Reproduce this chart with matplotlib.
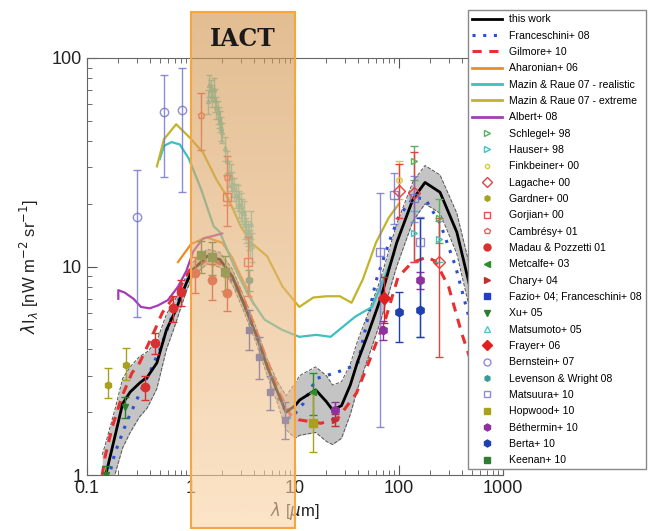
import numpy as np
import matplotlib
matplotlib.use('Agg')
import matplotlib.pyplot as plt
from matplotlib.lines import Line2D
from matplotlib.patches import Rectangle
from matplotlib.colors import LinearSegmentedColormap
from matplotlib.transforms import blended_transform_factory

plt.rcParams['font.family'] = ['Liberation Sans', 'DejaVu Sans']

# ---- model curves ----
tw_x = [0.14, 0.15, 0.185, 0.22, 0.26, 0.32, 0.38, 0.47, 0.58, 0.7, 0.9, 1.03, 1.43, 1.9, 2.5, 3.3, 4.3, 5.4, 6.8, 8.2,
        10, 11.1, 15.8, 20, 23, 28, 34, 40, 50, 66, 95, 136, 178, 248, 360, 480, 650]
tw_y = [0.9, 0.98, 1.52, 2.2, 2.5, 2.76, 2.95, 3.45, 4.96, 6.05, 8.3, 9.6, 11.2, 10.8, 8.95, 6.42, 4.6, 3.31, 2.5, 2.0,
        2.15, 2.29, 2.56, 2.25, 2.05, 2.15, 2.7, 3.5, 4.7, 6.94, 13.0, 21.0, 25.3, 22.7, 14.6, 8.0, 4.0]
tw_hi = [1.25, 1.4, 2.05, 2.9, 3.3, 3.7, 3.9, 4.4, 5.9, 6.9, 9.0, 10.4, 12.1, 11.7, 9.7, 7.0, 5.0, 3.6, 2.8, 2.4,
         2.75, 3.0, 3.3, 3.0, 2.7, 2.8, 3.4, 4.4, 5.9, 8.6, 16.0, 25.5, 30.5, 27.5, 18.0, 10.0, 5.2]
tw_lo = [0.62, 0.7, 1.0, 1.35, 1.6, 1.9, 2.1, 2.6, 4.0, 5.2, 7.6, 8.9, 10.3, 9.9, 8.2, 5.9, 4.2, 3.0, 2.2, 1.65,
         1.5, 1.55, 1.6, 1.45, 1.4, 1.5, 1.95, 2.6, 3.6, 5.4, 10.0, 16.5, 20.0, 18.0, 11.5, 6.2, 3.0]

fr_x = [0.16, 0.185, 0.24, 0.31, 0.4, 0.5, 0.7, 1.0, 1.5, 2.0, 3.0, 4.0, 5.0, 7.0, 9.0, 12, 16, 25, 40, 60, 80, 100,
        140, 180, 250, 350, 480]
fr_y = [0.95, 1.27, 1.79, 2.37, 3.1, 3.98, 6.3, 9.4, 11.0, 10.2, 7.2, 5.0, 3.7, 2.3, 1.85, 2.2, 2.9, 3.1, 3.4, 8.5,
        13.0, 17.5, 21.5, 21.0, 16.0, 10.0, 5.5]

gi_x = [0.14, 0.149, 0.175, 0.216, 0.27, 0.32, 0.42, 0.53, 0.73, 0.97, 1.5, 2.0, 3.0, 4.0, 5.0, 7.0, 9.0, 10.9, 17.8,
        26, 39, 51, 75, 98, 132, 185, 224, 300, 400, 600]
gi_y = [1.0, 1.22, 1.7, 2.37, 3.08, 3.45, 4.6, 6.0, 7.5, 9.6, 10.9, 10.2, 7.6, 5.3, 3.9, 2.5, 1.95, 1.84, 1.77, 1.88,
        2.47, 3.45, 5.7, 8.9, 10.4, 11.1, 10.6, 8.0, 4.8, 2.6]

ah_x = [0.75, 1.0, 1.4, 2.0, 2.5, 3.0, 3.5, 4.0]
ah_y = [10.5, 12.8, 13.8, 13.0, 11.0, 9.0, 7.8, 6.6]

mr_x = [0.5, 0.55, 0.65, 0.78, 0.95, 1.25, 1.65, 1.9, 2.6, 3.6, 5.1, 7.5, 11, 16, 22, 38, 55, 70, 90]
mr_y = [32.7, 37.9, 39.5, 38.5, 33.0, 23.5, 15.6, 14.6, 10.0, 7.2, 5.56, 4.97, 4.6, 4.7, 4.6, 5.75, 6.4, 8.5, 11.5]

me_x = [0.47, 0.55, 0.72, 0.95, 1.3, 1.75, 2.3, 3.0, 3.8, 5.4, 7.6, 11, 15, 20, 27, 35, 45, 60, 80, 100]
me_y = [30.2, 40.8, 48.1, 42.0, 35.3, 26.2, 21.0, 15.6, 13.0, 11.2, 8.0, 6.4, 7.1, 7.2, 7.2, 6.7, 8.7, 13.0, 17.2, 20.0]

al_x = [0.2, 0.2, 0.23, 0.28, 0.33, 0.4, 0.48, 0.6, 0.75, 0.9, 1.05, 1.3, 1.7, 2.0]
al_y = [7.0, 7.7, 7.5, 7.0, 6.4, 6.3, 6.5, 6.9, 8.0, 9.5, 11.8, 13.6, 14.1, 14.4]

# ---- data points: (x, y, err_lo, err_hi) ----
schlegel = ([140, 240], [32, 17], [6, 4], [6, 4])
hauser = ([140, 240], [14.5, 13.5], [4, 3], [4, 3])
finkbeiner = ([100], [26], [5], [6])
lagache = ([100, 140, 240], [23, 22.5, 10.5], [6, 12, 6.8], [8, 13, 6.5])
gardner = ([0.1595, 0.2365], [2.7, 3.37], [0.36, 0.51], [0.56, 0.7])
gorjian = ([2.2, 3.5], [21.6, 10.5], [6, 3.3], [6, 3.3])
cambresy = ([1.25, 2.2], [53.3, 26.8], [17, 7], [15, 7])
madau = ([0.36, 0.45, 0.67, 0.81, 1.1, 1.6, 2.2], [2.64, 4.3, 6.3, 7.55, 9.3, 8.6, 7.5],
         [0.35, 0.5, 0.9, 1.1, 1.8, 1.7, 1.4], [0.35, 0.5, 0.9, 1.1, 1.8, 1.7, 1.4])
metcalfe = ([15], [2.5], [0.56], [0.58])
chary = ([24], [1.84], [0.12], [0.12])
fazio = ([3.6, 4.5, 5.8, 8.0], [4.96, 3.68, 2.5, 1.84], [1.0, 0.8, 0.45, 0.35], [1.2, 0.9, 0.5, 0.4])
xu = ([0.153, 0.231], [1.0, 2.12], [0.1, 0.25], [0.1, 0.25])
matsumoto_x = [1.45, 1.5, 1.55, 1.6, 1.65, 1.7, 1.75, 1.8, 1.85, 1.9, 1.95, 2.0, 2.1, 2.2, 2.3, 2.4, 2.5, 2.6,
               2.7, 2.8, 2.9, 3.0, 3.1, 3.2, 3.3, 3.4, 3.5, 3.6, 3.7, 3.8, 3.9]
matsumoto_y = [62, 74, 70, 66, 71, 63, 58, 55, 52, 50, 46, 44, 37, 32, 28, 27, 25, 23.5, 22, 21.5, 20, 19.5,
               18.5, 18, 16, 15, 14.5, 14, 13, 16, 12.5]
matsumoto_e = [8, 9, 8, 8, 9, 8, 7, 7, 6, 6, 6, 5, 5, 4, 4, 4, 3.5, 3, 3, 3, 3, 3, 2.5, 2.5, 2.5, 2, 2, 2,
               2, 2.5, 2]
frayer = ([71.4], [7.06], [1.7], [1.85])
bernstein = ([0.3, 0.555, 0.814], [17.3, 55, 56.3], [11.6, 28, 33.5], [11.7, 28, 33])
levenson = ([3.6], [8.6], [1.0], [1.0])
matsuura = ([65, 90, 140, 160], [11.7, 22.0, 21.3, 13.1], [10, 6, 5, 8.5], [10.8, 6, 6, 4.2])
hopwood = ([15], [1.77], [0.48], [0.7])
bethermin = ([24, 70, 160], [2.05, 4.96, 8.6], [0.2, 0.5, 0.8], [0.2, 0.5, 0.8])
berta = ([100, 160], [6.06, 6.2], [1.7, 1.6], [1.5, 10.8])
keenan = ([1.25, 1.6, 2.12], [11.3, 11.1, 9.4], [2.0, 2.0, 1.8], [2.0, 2.0, 1.8])

iact = [1, 10]

fig = plt.figure(figsize=(6.48, 5.31), dpi=100)
ax = fig.add_axes([87 / 648, 56 / 531, 416 / 648, 417 / 531])
ax.set_xscale('log')
ax.set_yscale('log')
ax.set_xlim(0.1, 1000)
ax.set_ylim(1, 100)
ax.set_autoscale_on(False)

handles = []

ax.fill_between(tw_x, tw_lo, tw_hi, color='#c4c4c4', lw=0, zorder=1)
ax.plot(tw_x, tw_hi, ls='--', color='#555555', lw=0.7, zorder=1.5)
ax.plot(tw_x, tw_lo, ls='--', color='#555555', lw=0.7, zorder=1.5)
ax.plot(tw_x, tw_y, color='black', lw=2, zorder=3)
handles.append(Line2D([], [], color='black', lw=2, label='this work'))

ax.plot(fr_x, fr_y, color='#2a4fd0', ls=(0, (1, 2.5)), lw=2.2, zorder=2.5)
handles.append(Line2D([], [], color='#2a4fd0', ls=(0, (1, 2.5)), lw=2.2, label='Franceschini+ 08'))
ax.plot(gi_x, gi_y, color='#e83030', ls=(0, (3, 2.5)), lw=2.2, zorder=2.5)
handles.append(Line2D([], [], color='#e83030', ls=(0, (3, 2.5)), lw=2.2, label='Gilmore+ 10'))

for xs, ys, c, lab in [(ah_x, ah_y, '#f08a24', 'Aharonian+ 06'),
                       (mr_x, mr_y, '#3cc0c0', 'Mazin & Raue 07 - realistic'),
                       (me_x, me_y, '#c2b42a', 'Mazin & Raue 07 - extreme'),
                       (al_x, al_y, '#a43cb4', 'Albert+ 08')]:
    ax.plot(xs, ys, color=c, lw=1.6, zorder=2.5)
    handles.append(Line2D([], [], color=c, lw=2, label=lab))


def pts(d, color, marker, label, filled=True, ms=5, alpha=1.0):
    x, y, lo, hi = d
    ax.errorbar(x, y, yerr=[lo, hi], fmt=marker, color=color, mec=color,
                mfc=color if filled else 'none', ms=ms, capsize=3, elinewidth=1,
                capthick=1, alpha=alpha, zorder=4)
    handles.append(Line2D([], [], ls='none', marker=marker, color=color, mec=color,
                          mfc=color if filled else 'none', ms=ms - 1, alpha=alpha, label=label))


pts(schlegel, '#5caf5c', '>', 'Schlegel+ 98', filled=False)
pts(hauser, '#3cc4c4', '>', 'Hauser+ 98', filled=False)
pts(finkbeiner, '#d4cc3c', 'o', 'Finkbeiner+ 00', filled=False, ms=4)
pts(lagache, '#e84040', 'D', 'Lagache+ 00', filled=False, ms=6)
pts(gardner, '#aaa020', 'h', 'Gardner+ 00', ms=5)
pts(gorjian, '#e85050', 's', 'Gorjian+ 00', filled=False, ms=6)
pts(cambresy, '#e86060', 'p', 'Cambrésy+ 01', filled=False, ms=5)
pts(madau, '#d83030', 'o', 'Madau & Pozzetti 01', ms=6)
pts(metcalfe, '#2e8b2e', '<', 'Metcalfe+ 03')
pts(chary, '#c03030', '>', 'Chary+ 04')
pts(fazio, '#2040c0', 's', 'Fazio+ 04; Franceschini+ 08')
pts(xu, '#2e7d2e', 'v', 'Xu+ 05')
ax.errorbar(matsumoto_x, matsumoto_y, yerr=matsumoto_e, fmt='^', color='#50c8c8', mfc='none',
            ms=3, capsize=2, elinewidth=1, alpha=0.8, zorder=3.5)
handles.append(Line2D([], [], ls='none', marker='^', color='#50c8c8', mfc='none', ms=4,
                      label='Matsumoto+ 05'))
pts(frayer, '#e02020', 'D', 'Frayer+ 06', ms=6)
pts(bernstein, '#7070d0', 'o', 'Bernstein+ 07', filled=False, ms=6, alpha=0.8)
pts(levenson, '#3a9a9a', 'h', 'Levenson & Wright 08')
pts(matsuura, '#7070d0', 's', 'Matsuura+ 10', filled=False, ms=6, alpha=0.8)
pts(hopwood, '#aaa020', 's', 'Hopwood+ 10', ms=6)
pts(bethermin, '#9030a0', 'h', 'Béthermin+ 10', ms=6)
pts(berta, '#2040b0', 'h', 'Berta+ 10', ms=6)
pts(keenan, '#2e7d32', 's', 'Keenan+ 10', ms=6)

# IACT band overlay
trans = blended_transform_factory(ax.transData, ax.transAxes)
cmap = LinearSegmentedColormap.from_list('iact', ['#d1924a', '#fbd3a5'])
grad = np.linspace(0, 1, 256).reshape(-1, 1)
ax.imshow(grad, cmap=cmap, aspect='auto', origin='upper', extent=(iact[0], iact[1], -0.127, 1.11),
          transform=trans, clip_on=False, alpha=0.6, zorder=6, interpolation='bilinear')
ax.add_patch(Rectangle((iact[0], -0.127), iact[1] - iact[0], 1.237, transform=trans, fill=False,
                       ec='#f5a640', lw=1.5, clip_on=False, zorder=7))
ax.text(np.sqrt(iact[0] * iact[1]), 1.045, 'IACT', transform=trans, ha='center', va='center',
        fontsize=17, family='DejaVu Serif', fontweight='bold', color='#1a1a1a', zorder=8)
ax.set_xlim(0.1, 1000)
ax.set_ylim(1, 100)

ax.set_xticks([0.1, 1, 10, 100, 1000])
ax.set_xticklabels(['0.1', '1', '10', '100', '1000'])
ax.set_yticks([1, 10, 100])
ax.set_yticklabels(['1', '10', '100'])
ax.tick_params(which='both', direction='in', top=True, right=True, colors='#555555', labelcolor='#222222')
ax.tick_params(which='major', length=7, labelsize=13)
ax.tick_params(which='minor', length=3.5)
for s in ax.spines.values():
    s.set_color('#666666')
ax.set_xlabel(r'$\lambda$ [$\mu$m]', fontsize=12, color='#222222', labelpad=2)
ax.set_ylabel(r'$\lambda$I$_\lambda$ [nW m$^{-2}$ sr$^{-1}$]', fontsize=12, color='#222222', labelpad=8)

fig.legend(handles=handles, loc='upper left', bbox_to_anchor=(468 / 648, 1 - 10 / 531), fontsize=7.6,
           frameon=True, fancybox=False, edgecolor='#888888', framealpha=1, labelspacing=0.6,
           handlelength=2.8, handletextpad=0.7, borderpad=0.4, borderaxespad=0)

fig.savefig('out.png', dpi=100)
